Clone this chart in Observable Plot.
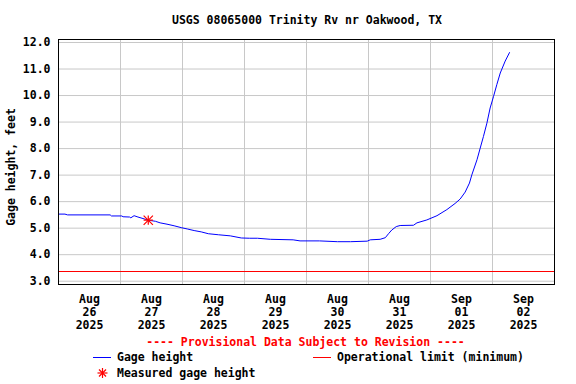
<!DOCTYPE html>
<html>
<head>
<meta charset="utf-8">
<script src="https://cdn.jsdelivr.net/npm/d3@7"></script>
<script src="https://cdn.jsdelivr.net/npm/@observablehq/plot@0.6"></script>
<style>
  html, body { margin: 0; padding: 0; background: white; }
  #wrap { width: 576px; height: 384px; position: relative; font-family: "DejaVu Sans Mono", monospace; font-weight: bold; font-size: 11.5px; color: black; }
  #title { height: 30px; box-sizing: border-box; padding-top: 13px; line-height: 14px; text-align: center; padding-left: 38px; white-space: pre; }
  #chart svg { display: block; }
  .abs { position: absolute; white-space: pre; line-height: 14px; }
</style>
</head>
<body>
<div id="wrap">
  <div id="title">USGS 08065000 Trinity Rv nr Oakwood, TX</div>
  <div id="chart"></div>
  <div class="abs" style="left:-55px; top:160px; width:132px; text-align:center; transform:rotate(-90deg); transform-origin:66px 7px;">Gage height, feet</div>
  <div class="abs" style="left:0; width:611px; text-align:center; top:335px; color:#ff0000;">---- Provisional Data Subject to Revision ----</div>
  <svg class="abs" style="left:93px; top:350px;" width="19" height="14"><line x1="0" x2="18" y1="7.5" y2="7.5" stroke="#0000ff" stroke-width="1"/></svg>
  <div class="abs" style="left:117px; top:350px;">Gage height</div>
  <svg class="abs" style="left:313px; top:350px;" width="19" height="14"><line x1="0" x2="18" y1="7.5" y2="7.5" stroke="#ff0000" stroke-width="1"/></svg>
  <div class="abs" style="left:337px; top:350px;">Operational limit (minimum)</div>
  <svg class="abs" style="left:96px; top:366px;" width="13" height="14"><g stroke="#ff0000" stroke-width="1.2"><line x1="6.5" x2="6.5" y1="2" y2="12"/><line x1="1.5" x2="11.5" y1="7" y2="7"/><line x1="3" x2="10" y1="3.5" y2="10.5"/><line x1="10" x2="3" y1="3.5" y2="10.5"/></g></svg>
  <div class="abs" style="left:117px; top:366px;">Measured gage height</div>
</div>
<script>
// Gage height series (local time, feet)
const times = [
  "2025-08-26T00:00","2025-08-26T02:30","2025-08-26T03:30","2025-08-26T20:00","2025-08-26T20:30",
  "2025-08-27T00:30","2025-08-27T01:00","2025-08-27T03:30","2025-08-27T04:00","2025-08-27T05:15",
  "2025-08-27T06:45","2025-08-27T09:10","2025-08-27T10:45","2025-08-27T13:30","2025-08-27T15:20",
  "2025-08-27T18:00","2025-08-27T20:45","2025-08-27T23:30","2025-08-28T01:50","2025-08-28T04:30",
  "2025-08-28T07:15","2025-08-28T10:00","2025-08-28T14:00","2025-08-28T18:30","2025-08-28T22:45",
  "2025-08-29T02:00","2025-08-29T05:00","2025-08-29T10:00","2025-08-29T18:50","2025-08-29T21:30",
  "2025-08-30T05:00","2025-08-30T12:00","2025-08-30T17:00","2025-08-30T23:30","2025-08-31T00:40",
  "2025-08-31T04:30","2025-08-31T06:30","2025-08-31T07:45","2025-08-31T09:00","2025-08-31T10:45",
  "2025-08-31T12:15","2025-08-31T17:25","2025-08-31T18:45","2025-08-31T22:35","2025-09-01T02:30",
  "2025-09-01T06:20","2025-09-01T09:30","2025-09-01T11:30","2025-09-01T13:25","2025-09-01T15:05",
  "2025-09-01T16:00","2025-09-01T18:00","2025-09-01T19:15","2025-09-01T20:30","2025-09-01T21:50",
  "2025-09-01T23:05","2025-09-02T00:25","2025-09-02T01:40","2025-09-02T03:00","2025-09-02T04:55",
  "2025-09-02T06:35"
];
const values = [
  5.53, 5.53, 5.50, 5.50, 5.46,
  5.46, 5.43, 5.42, 5.39, 5.47,
  5.42, 5.35, 5.30, 5.26, 5.20,
  5.15, 5.09, 5.02, 4.97, 4.91,
  4.86, 4.79, 4.75, 4.71, 4.63,
  4.62, 4.62, 4.58, 4.56, 4.52,
  4.52, 4.49, 4.49, 4.51, 4.56,
  4.58, 4.64, 4.79, 4.93, 5.06,
  5.10, 5.11, 5.20, 5.31, 5.47,
  5.70, 5.93, 6.10, 6.36, 6.70,
  7.01, 7.58, 8.02, 8.46, 8.96,
  9.53, 9.97, 10.41, 10.85, 11.30,
  11.62
];
// Measured gage height
const measuredTimes = ["2025-08-27T10:45"];
const measuredValues = [5.30];
// Operational limit (minimum)
const operationalLimit = [3.366];
// Axis ticks
const yTicks = [3, 4, 5, 6, 7, 8, 9, 10, 11, 12];
const gridDays = ["2025-08-27","2025-08-28","2025-08-29","2025-08-30","2025-08-31","2025-09-01","2025-09-02"];
const labelDays = ["2025-08-26","2025-08-27","2025-08-28","2025-08-29","2025-08-30","2025-08-31","2025-09-01","2025-09-02"];
const xDomain = ["2025-08-26T00:00", "2025-09-03T00:00"];
const yDomain = [2.876, 12.113];

const data = times.map((t, i) => ({date: new Date(t), value: values[i]}));
const measured = measuredTimes.map((t, i) => ({date: new Date(t), value: measuredValues[i]}));
const gridDates = gridDays.map(d => new Date(d + "T00:00"));
const labelDates = labelDays.map(d => new Date(d + "T12:00"));
const fmt = d3.timeFormat("%b\n%d\n%Y");

const chart = Plot.plot({
  width: 576,
  height: 305,
  marginLeft: 58,
  marginRight: 22,
  marginTop: 9,
  marginBottom: 51,
  x: {type: "time", domain: xDomain.map(d => new Date(d))},
  y: {domain: yDomain},
  style: {fontFamily: "'DejaVu Sans Mono', monospace", fontSize: "11.5px", fontWeight: "bold", background: "white", color: "black", overflow: "visible"},
  marks: [
    Plot.gridX(gridDates, {stroke: "#c8c8c8", strokeOpacity: 1, strokeWidth: 1}),
    Plot.gridY(yTicks, {stroke: "#c8c8c8", strokeOpacity: 1, strokeWidth: 1}),
    Plot.ruleY(operationalLimit, {stroke: "#ff0000", strokeWidth: 1}),
    Plot.line(data, {x: "date", y: "value", stroke: "#0000ff", strokeWidth: 1}),
    Plot.dot(measured, {x: "date", y: "value", symbol: "plus", r: 3.1, stroke: "#ff0000", strokeWidth: 1.2}),
    Plot.dot(measured, {x: "date", y: "value", symbol: "times", r: 4.3, stroke: "#ff0000", strokeWidth: 1.2}),
    Plot.frame({stroke: "black", strokeWidth: 1}),
    Plot.axisY(yTicks, {tickSize: 0, tickPadding: 8, tickFormat: d => d.toFixed(1), label: null, fill: "black"}),
    Plot.axisX(labelDates, {tickSize: 0, tickPadding: 9, tickFormat: fmt, lineHeight: 1.13, label: null, fill: "black"})
  ]
});
document.getElementById("chart").appendChild(chart);
</script>
</body>
</html>
